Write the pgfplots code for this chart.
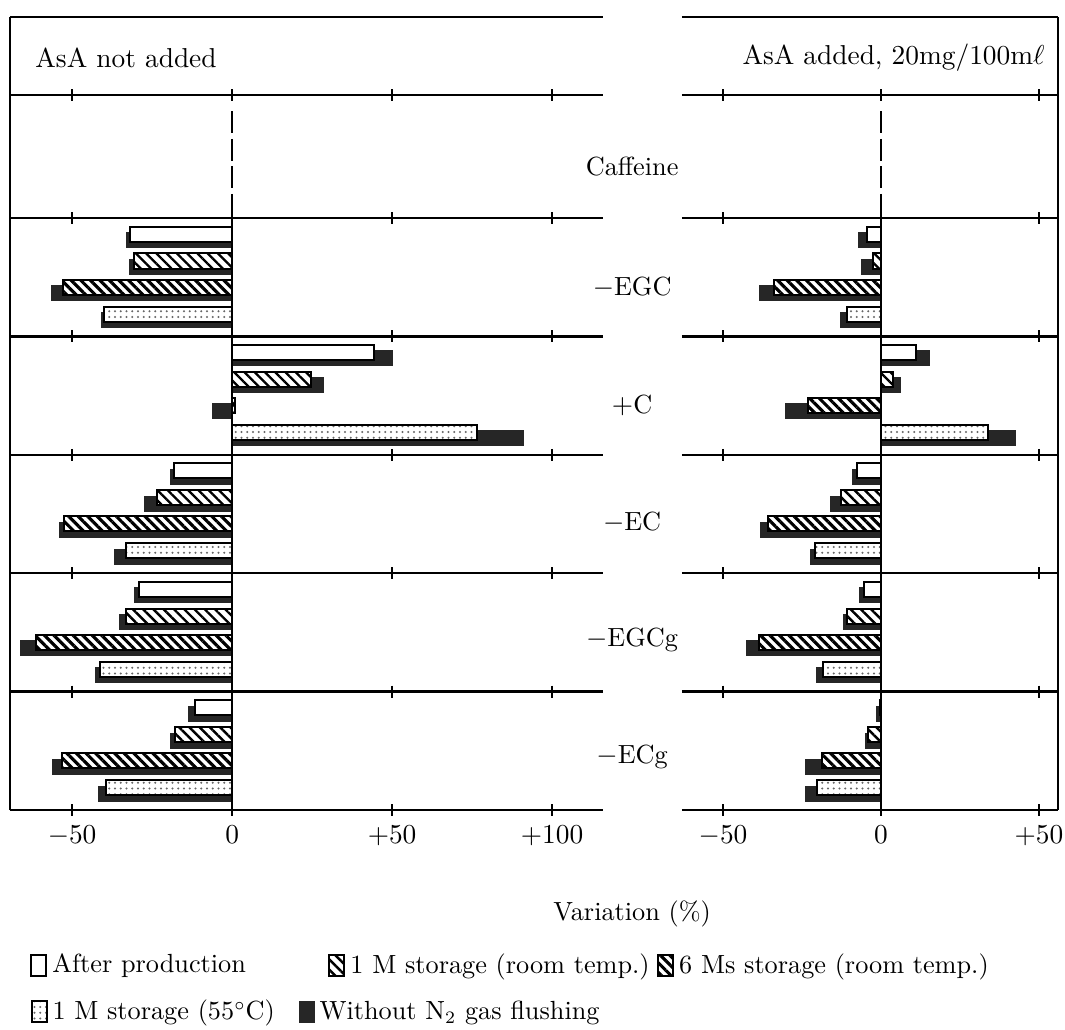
\documentclass[border=0pt]{standalone}
\usepackage{pgfplots}
\pgfplotsset{compat=1.18}
\usepackage{pgfplotstable}
\usetikzlibrary{patterns,patterns.meta}

% k = category (1 -EGC, 2 +C, 3 -EC, 4 -EGCg, 5 -ECg)
% A After production, B 1 M storage (RT), C 6 Ms storage (RT), D 1 M storage (55C); *n = without N2 flushing
\pgfplotstableread{
k A B C D An Bn Cn Dn
1 -31.8 -30.6 -52.8 -40.1 -33.0 -32.2 -56.3 -40.8
2 44.2 24.8 1.0 76.6 50.2 28.6 -6.2 91.2
3 -18.1 -23.4 -52.5 -33.0 -19.4 -27.5 -53.8 -36.6
4 -29.0 -33.2 -61.2 -41.2 -30.6 -35.1 -66.0 -42.8
5 -11.6 -17.8 -53.0 -39.4 -13.7 -19.1 -56.0 -41.6
}\leftdata

\pgfplotstableread{
k A B C D An Bn Cn Dn
1 -4.5 -2.4 -34.0 -10.9 -7.0 -6.3 -38.5 -12.8
2 11.1 3.7 -23.0 33.8 15.2 6.2 -30.2 42.7
3 -7.5 -12.7 -35.9 -20.9 -9.0 -16.1 -38.0 -22.3
4 -5.3 -10.9 -38.5 -18.5 -6.7 -11.9 -42.7 -20.5
5 -0.4 -4.0 -18.6 -20.4 -1.6 -4.9 -23.8 -23.8
}\rightdata

\pgfplotsset{
  panel/.style={
    scale only axis, height=317.2pt,
    y dir=reverse, ymin=-0.698, ymax=6,
    ytick={-0.698,-0.039,1,2,3,4,5,6}, yticklabels={}, y tick style={draw=none},
    ymajorgrids, grid style={black, line width=0.9pt},
    axis line style={draw=none},
    x tick style={draw=none},
    xticklabel style={yshift=-3pt},
    tick label style={font=\fontsize{10.95}{13}\selectfont},
    clip=false,
    legend columns=-1,
    legend cell align=left,
  },
  nbar/.style={xbar, bar shift=0pt, bar width=0.127, forget plot},
  blk/.style={fill=black!85, draw=black!85, line width=0.4pt},
  sA/.style={draw=black, line width=0.8pt, fill=white},
  sB/.style={draw=black, line width=0.8pt, fill=white,
     postaction={pattern={Lines[angle=-45,distance=2.9pt,line width=0.95pt]}, pattern color=black}},
  sC/.style={draw=black, line width=0.8pt, fill=white,
     postaction={pattern={Lines[angle=-45,distance=2.7pt,line width=1.25pt]}, pattern color=black}},
  sD/.style={draw=black, line width=0.8pt, fill=white,
     postaction={pattern={Dots[distance=2.3pt,radius=0.42pt]}, pattern color=black!60}},
  legbox/.style={legend image code/.code={\draw[##1] (0pt,-4.2pt) rectangle (6pt,4.2pt);}},
  tickmk/.style={only marks, mark=|, mark size=2.4pt, mark options={line width=0.7pt, black}, forget plot},
}

\begin{document}
\begin{tikzpicture}[font=\fontsize{10.5}{12.6}\selectfont]
\path[use as bounding box] (-4pt,-88pt) rectangle (422pt,324pt);

% ---------------- left panel ----------------
\begin{axis}[panel, name=L, at={(0pt,0pt)}, anchor=south west, width=237.2pt,
  xmin=-69.4, xmax=115.9, xtick={-50,0,50,100},
  xticklabels={$-50$,$0$,$+50$,$+100$},
  legend style={draw=none, fill=none, inner sep=0pt,
    at={(axis description cs:0.0337,-0.1955)}, anchor=west,
    font=\fontsize{10.5}{12.6}\selectfont,
    /tikz/column 2/.style={column sep=31pt},
    /tikz/column 4/.style={column sep=1pt}}]
\addlegendimage{legbox, sA}\addlegendentry{After production}
\addlegendimage{legbox, sB}\addlegendentry{1 M storage (room temp.)}
\addlegendimage{legbox, sC}\addlegendentry{6 Ms storage (room temp.)}

\addplot[nbar, blk] table[x=An, y expr=\thisrow{k}+0.186] {\leftdata};
\addplot[nbar, blk] table[x=Bn, y expr=\thisrow{k}+0.414] {\leftdata};
\addplot[nbar, blk] table[x=Cn, y expr=\thisrow{k}+0.633] {\leftdata};
\addplot[nbar, blk] table[x=Dn, y expr=\thisrow{k}+0.861] {\leftdata};
\addplot[nbar, sA] table[x=A, y expr=\thisrow{k}+0.135] {\leftdata};
\addplot[nbar, sB] table[x=B, y expr=\thisrow{k}+0.363] {\leftdata};
\addplot[nbar, sC] table[x=C, y expr=\thisrow{k}+0.583] {\leftdata};
\addplot[nbar, sD] table[x=D, y expr=\thisrow{k}+0.811] {\leftdata};

\addplot[tickmk] coordinates {
(-50,-0.039) (0,-0.039) (50,-0.039) (100,-0.039)
(-50,1) (0,1) (50,1) (100,1)
(-50,2) (0,2) (50,2) (100,2)
(-50,3) (0,3) (50,3) (100,3)
(-50,4) (0,4) (50,4) (100,4)
(-50,5) (0,5) (50,5) (100,5)
(-50,6) (0,6) (50,6) (100,6)};

\draw[line width=0.9pt] (rel axis cs:0,0) -- (rel axis cs:0,1);
\draw[line width=0.8pt] (axis cs:0,1) -- (axis cs:0,6);
\draw[line width=0.8pt, dash pattern=on 8.8pt off 2.2pt] (axis cs:0,0.1) -- (axis cs:0,1);

\node[anchor=west, inner sep=0pt, font=\fontsize{10.95}{13}\selectfont] at (axis cs:-61.6,-0.351) {AsA not added};

\node at (axis cs:125,0.569) {Caffeine};
\node at (axis cs:125,1.583) {$-$EGC};
\node at (axis cs:125,2.58) {$+$C};
\node at (axis cs:125,3.57) {$-$EC};
\node at (axis cs:125,4.56) {$-$EGCg};
\node at (axis cs:125,5.55) {$-$ECg};
\node at (axis cs:125,6.88) {Variation (\%)};
\end{axis}

% ---------------- right panel ----------------
\begin{axis}[panel, name=R, at={(268.8pt,0pt)}, anchor=south west, width=150.4pt,
  xmin=-63, xmax=56, xtick={-50,0,50},
  xticklabels={$-50$,$0$,$+50$},
  legend style={draw=none, fill=none, inner sep=0pt,
    at={(axis description cs:-1.734,-0.2547)}, anchor=west,
    font=\fontsize{10.5}{12.6}\selectfont,
    /tikz/column 2/.style={column sep=7.5pt}}]
\addlegendimage{legbox, sD}\addlegendentry{1 M storage (55$^\circ$C)}
\addlegendimage{legbox, blk}\addlegendentry{Without N$_2$ gas flushing}

\addplot[nbar, blk] table[x=An, y expr=\thisrow{k}+0.186] {\rightdata};
\addplot[nbar, blk] table[x=Bn, y expr=\thisrow{k}+0.414] {\rightdata};
\addplot[nbar, blk] table[x=Cn, y expr=\thisrow{k}+0.633] {\rightdata};
\addplot[nbar, blk] table[x=Dn, y expr=\thisrow{k}+0.861] {\rightdata};
\addplot[nbar, sA] table[x=A, y expr=\thisrow{k}+0.135] {\rightdata};
\addplot[nbar, sB] table[x=B, y expr=\thisrow{k}+0.363] {\rightdata};
\addplot[nbar, sC] table[x=C, y expr=\thisrow{k}+0.583] {\rightdata};
\addplot[nbar, sD] table[x=D, y expr=\thisrow{k}+0.811] {\rightdata};

\addplot[tickmk] coordinates {
(-50,-0.039) (0,-0.039) (50,-0.039)
(-50,1) (0,1) (50,1)
(-50,2) (0,2) (50,2)
(-50,3) (0,3) (50,3)
(-50,4) (0,4) (50,4)
(-50,5) (0,5) (50,5)
(-50,6) (0,6) (50,6)};

\draw[line width=0.9pt] (rel axis cs:1,0) -- (rel axis cs:1,1);
\draw[line width=0.8pt] (axis cs:0,1) -- (axis cs:0,6);
\draw[line width=0.8pt, dash pattern=on 8.8pt off 2.2pt] (axis cs:0,0.1) -- (axis cs:0,1);

\node[anchor=east, inner sep=0pt, font=\fontsize{10.95}{13}\selectfont] at (axis cs:51.9,-0.351) {AsA added, 20mg/100m$\ell$};
\end{axis}
\end{tikzpicture}
\end{document}
